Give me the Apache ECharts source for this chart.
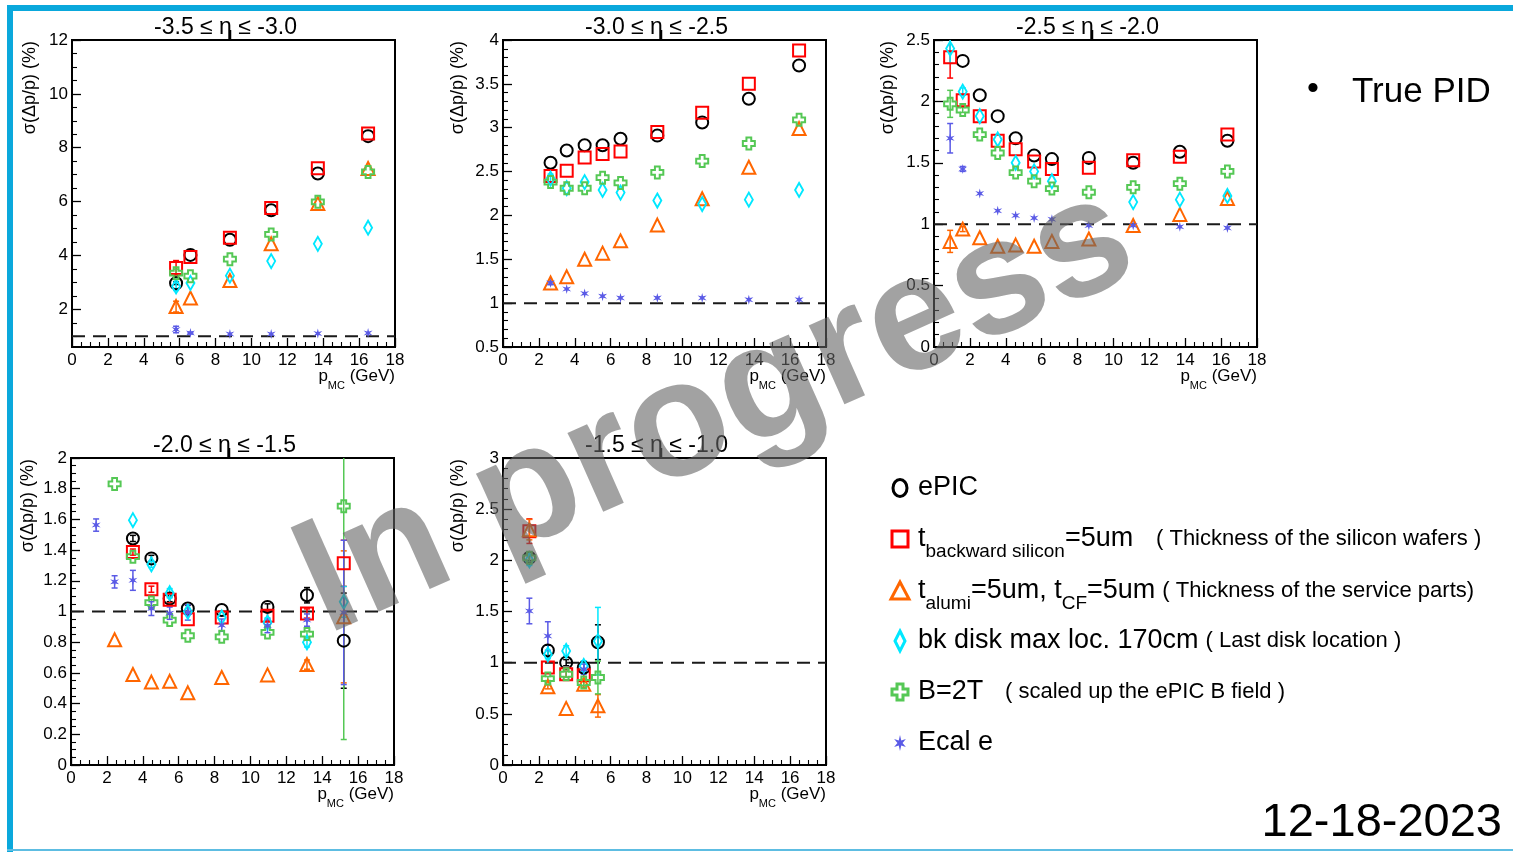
<!DOCTYPE html>
<html><head><meta charset="utf-8">
<script src="https://cdn.jsdelivr.net/npm/echarts@6/dist/echarts.min.js"></script>
<style>html,body{margin:0;padding:0;background:#fff;}#c{width:1513px;height:852px;}</style>
</head><body><div id="c"></div>
<script>
// ---------------- DATA ----------------
const X_TICKS = [0, 2, 4, 6, 8, 10, 12, 14, 16, 18];
const TITLES = ['-3.5 ≤ η ≤ -3.0', '-3.0 ≤ η ≤ -2.5', '-2.5 ≤ η ≤ -2.0', '-2.0 ≤ η ≤ -1.5', '-1.5 ≤ η ≤ -1.0'];
const Y_TITLE = 'σ(Δp/p) (%)';

// Panel 1: -3.5 <= eta <= -3.0
const P1_YTICKS = [2, 4, 6, 8, 10, 12];
const P1_X    = [5.8, 6.6, 8.8, 11.1, 13.7, 16.5];
const P1_EPIC = [2.97, 4.02, 4.58, 5.68, 7.04, 8.43];
const P1_TBS  = [3.53, 3.94, 4.66, 5.76, 7.24, 8.53];
const P1_TAL  = [2.10, 2.42, 3.07, 4.43, 5.93, 7.23];
const P1_BK   = [2.85, 2.98, 3.25, 3.79, 4.43, 5.03];
const P1_B2T  = [3.34, 3.23, 3.86, 4.78, 5.99, 7.10];
const P1_ECAL = [1.25, 1.12, 1.08, 1.08, 1.10, 1.12];
const P1_ERR_EPIC = [0.05, 0, 0, 0, 0, 0];
const P1_ERR_TBS  = [0.28, 0, 0, 0, 0, 0];
const P1_ERR_TAL  = [0.20, 0, 0, 0, 0, 0];
const P1_ERR_BK   = [0.15, 0, 0, 0, 0, 0];
const P1_ERR_B2T  = [0.15, 0, 0, 0, 0, 0];
const P1_ERR_ECAL = [0.12, 0.03, 0, 0, 0, 0];

// Panel 2: -3.0 <= eta <= -2.5
const P2_YTICKS = [0.5, 1, 1.5, 2, 2.5, 3, 3.5, 4];
const P2_X    = [2.65, 3.55, 4.55, 5.55, 6.55, 8.6, 11.1, 13.7, 16.5];
const P2_EPIC = [2.60, 2.74, 2.80, 2.80, 2.875, 2.91, 3.06, 3.33, 3.71];
const P2_TBS  = [2.45, 2.51, 2.66, 2.70, 2.73, 2.95, 3.17, 3.50, 3.88];
const P2_TAL  = [1.23, 1.30, 1.50, 1.57, 1.71, 1.89, 2.19, 2.55, 2.99];
const P2_BK   = [2.42, 2.31, 2.38, 2.29, 2.26, 2.17, 2.13, 2.18, 2.29];
const P2_B2T  = [2.38, 2.31, 2.31, 2.43, 2.37, 2.49, 2.62, 2.82, 3.09];
const P2_ECAL = [1.23, 1.16, 1.11, 1.08, 1.06, 1.06, 1.06, 1.04, 1.04];
const P2_ERR_EPIC = [0, 0, 0, 0, 0, 0, 0, 0, 0];
const P2_ERR_TBS  = [0, 0, 0, 0, 0, 0, 0, 0, 0];
const P2_ERR_TAL  = [0, 0, 0, 0, 0, 0, 0, 0, 0];
const P2_ERR_BK   = [0.05, 0, 0, 0, 0, 0, 0, 0, 0];
const P2_ERR_B2T  = [0, 0, 0, 0, 0, 0, 0, 0, 0];
const P2_ERR_ECAL = [0.02, 0, 0, 0, 0, 0, 0, 0, 0];

// Panel 3: -2.5 <= eta <= -2.0
const P3_YTICKS = [0, 0.5, 1, 1.5, 2, 2.5];
const P3_X    = [0.9, 1.6, 2.55, 3.55, 4.55, 5.58, 6.57, 8.63, 11.1, 13.7, 16.35];
const P3_EPIC = [null, 2.33, 2.05, 1.88, 1.70, 1.56, 1.53, 1.54, 1.50, 1.59, 1.68];
const P3_TBS  = [2.36, 2.01, 1.88, 1.68, 1.61, 1.51, 1.45, 1.46, 1.52, 1.55, 1.73];
const P3_TAL  = [0.86, 0.96, 0.89, 0.82, 0.83, 0.82, 0.86, 0.88, 0.99, 1.08, 1.21];
const P3_BK   = [2.43, 2.08, 1.88, 1.69, 1.50, 1.43, 1.35, null, 1.18, 1.20, 1.23];
const P3_B2T  = [1.98, 1.93, 1.73, 1.58, 1.42, 1.35, 1.29, 1.26, 1.30, 1.33, 1.43];
const P3_ECAL = [1.70, 1.45, 1.25, 1.11, 1.07, 1.05, 1.04, 0.99, 0.99, 0.98, 0.97];
const P3_ERR_EPIC = [0, 0, 0, 0, 0, 0, 0, 0, 0, 0, 0];
const P3_ERR_TBS  = [0.17, 0, 0, 0, 0, 0, 0, 0, 0, 0, 0];
const P3_ERR_TAL  = [0.09, 0.02, 0, 0, 0, 0, 0, 0, 0, 0, 0];
const P3_ERR_BK   = [0.12, 0.03, 0, 0, 0, 0, 0, 0, 0, 0, 0];
const P3_ERR_B2T  = [0.11, 0.02, 0, 0, 0, 0, 0, 0, 0, 0, 0];
const P3_ERR_ECAL = [0.12, 0.02, 0, 0, 0, 0, 0, 0, 0, 0, 0];

// Panel 4: -2.0 <= eta <= -1.5
const P4_YTICKS = [0, 0.2, 0.4, 0.6, 0.8, 1, 1.2, 1.4, 1.6, 1.8, 2];
const P4_X    = [1.4, 2.43, 3.45, 4.48, 5.5, 6.51, 8.4, 10.95, 13.15, 15.2];
const P4_EPIC = [null, null, 1.476, 1.346, 1.084, 1.02, 1.01, 1.03, 1.106, 0.81];
const P4_TBS  = [null, null, 1.387, 1.145, 1.076, 0.95, 0.961, 0.972, 0.987, 1.314];
const P4_TAL  = [null, 0.816, 0.59, 0.54, 0.545, 0.47, 0.57, 0.587, 0.654, 0.965];
const P4_BK   = [null, null, 1.595, 1.307, 1.119, 0.998, 0.961, 0.929, 0.799, 1.063];
const P4_B2T  = [null, 1.831, 1.357, 1.058, 0.944, 0.842, 0.835, 0.864, 0.853, 1.686];
const P4_ECAL = [1.563, 1.193, 1.203, 1.019, 0.989, 0.994, 0.911, 0.907, 0.944, 0.994];
const P4_ERR_EPIC = [0, 0, 0.02, 0.02, 0.02, 0.02, 0, 0.02, 0.05, 0.31];
const P4_ERR_TBS  = [0, 0, 0.02, 0.02, 0.02, 0, 0, 0.03, 0.03, 0.15];
const P4_ERR_TAL  = [0, 0, 0, 0, 0, 0, 0, 0, 0.03, 0.43];
const P4_ERR_BK   = [0, 0, 0, 0.02, 0.03, 0.02, 0, 0.03, 0.03, 0.10];
const P4_ERR_B2T  = [0, 0, 0, 0.02, 0, 0, 0, 0, 0.02, 1.52];
const P4_ERR_ECAL = [0.04, 0.04, 0.065, 0.045, 0.04, 0.05, 0.04, 0.045, 0.04, 0.47];

// Panel 5: -1.5 <= eta <= -1.0
const P5_YTICKS = [0, 0.5, 1, 1.5, 2, 2.5, 3];
const P5_X    = [1.47, 2.5, 3.52, 4.5, 5.29];
const P5_EPIC = [2.025, 1.12, 1.0, 0.952, 1.20];
const P5_TBS  = [2.285, 0.952, 0.887, 0.877, null];
const P5_TAL  = [2.30, 0.764, 0.553, 0.79, 0.578];
const P5_BK   = [2.0, 1.08, 1.115, 0.968, 1.21];
const P5_B2T  = [2.025, 0.845, 0.887, 0.806, 0.855];
const P5_ECAL = [1.505, 1.26, null, 0.936, null];
const P5_ERR_EPIC = [0.03, 0.05, 0.03, 0.05, 0.17];
const P5_ERR_TBS  = [0.12, 0, 0.03, 0.05, 0];
const P5_ERR_TAL  = [0.10, 0.02, 0, 0.03, 0.11];
const P5_ERR_BK   = [0.05, 0.04, 0.05, 0.05, 0.33];
const P5_ERR_B2T  = [0.05, 0.02, 0.03, 0.03, 0.16];
const P5_ERR_ECAL = [0.125, 0.14, 0, 0.05, 0];

const REF_LINE = 1;

// Legend text
const LEGEND_ROWS = [
  { runs: [['ePIC', 'm']] },
  { runs: [['t', 'm'], ['backward silicon', 's'], ['=5um', 'm']], note: '( Thickness of the silicon wafers )', noteX: 1156 },
  { runs: [['t', 'm'], ['alumi', 's'], ['=5um, t', 'm'], ['CF', 's'], ['=5um', 'm']], note: '( Thickness of the service parts)', noteGap: 7 },
  { runs: [['bk disk max loc. 170cm', 'm']], note: '( Last disk location )', noteGap: 7 },
  { runs: [['B=2T', 'm']], note: '( scaled up the ePIC B field )', noteX: 1005 },
  { runs: [['Ecal e', 'm']] }
];
const SIDE_NOTE = 'True PID';
const DATE_TEXT = '12-18-2023';
const WATERMARK = 'In progress';

// ---------------- LAYOUT / STYLE ----------------
const FONT = "'Liberation Sans', Arial, Helvetica, sans-serif";
const W = 323, H = 307;
const LAYOUT = [
  { left: 72,  top: 40,  ymin: 0.6, ymax: 12,  minor: 0.5,  ytx: 30 },
  { left: 503, top: 40,  ymin: 0.5, ymax: 4,   minor: 0.1,  ytx: 458 },
  { left: 934, top: 40,  ymin: 0,   ymax: 2.5, minor: 0.1,  ytx: 888 },
  { left: 71,  top: 458, ymin: 0,   ymax: 2,   minor: 0.05, ytx: 28 },
  { left: 503, top: 458, ymin: 0,   ymax: 3,   minor: 0.1,  ytx: 458 }
];
const PANELS = [
  { x: P1_X, yt: P1_YTICKS, ys: [P1_EPIC, P1_TBS, P1_TAL, P1_BK, P1_B2T, P1_ECAL], es: [P1_ERR_EPIC, P1_ERR_TBS, P1_ERR_TAL, P1_ERR_BK, P1_ERR_B2T, P1_ERR_ECAL] },
  { x: P2_X, yt: P2_YTICKS, ys: [P2_EPIC, P2_TBS, P2_TAL, P2_BK, P2_B2T, P2_ECAL], es: [P2_ERR_EPIC, P2_ERR_TBS, P2_ERR_TAL, P2_ERR_BK, P2_ERR_B2T, P2_ERR_ECAL] },
  { x: P3_X, yt: P3_YTICKS, ys: [P3_EPIC, P3_TBS, P3_TAL, P3_BK, P3_B2T, P3_ECAL], es: [P3_ERR_EPIC, P3_ERR_TBS, P3_ERR_TAL, P3_ERR_BK, P3_ERR_B2T, P3_ERR_ECAL] },
  { x: P4_X, yt: P4_YTICKS, ys: [P4_EPIC, P4_TBS, P4_TAL, P4_BK, P4_B2T, P4_ECAL], es: [P4_ERR_EPIC, P4_ERR_TBS, P4_ERR_TAL, P4_ERR_BK, P4_ERR_B2T, P4_ERR_ECAL] },
  { x: P5_X, yt: P5_YTICKS, ys: [P5_EPIC, P5_TBS, P5_TAL, P5_BK, P5_B2T, P5_ECAL], es: [P5_ERR_EPIC, P5_ERR_TBS, P5_ERR_TAL, P5_ERR_BK, P5_ERR_B2T, P5_ERR_ECAL] }
];
const PLUS_PATH = 'path://M3,0H7V3H10V7H7V10H3V7H0V3H3Z';
const STAR_PATH = 'path://M10,0L11.75,6.97L18.66,5L13.5,10L18.66,15L11.75,13.03L10,20L8.25,13.03L1.34,15L6.5,10L1.34,5L8.25,6.97Z';
const STYLES = [
  { symbol: 'circle',   size: 12,      color: '#000000' },
  { symbol: 'rect',     size: 12,      color: '#ff0000' },
  { symbol: 'triangle', size: 13,      color: '#ff6600' },
  { symbol: 'diamond',  size: [8, 14], color: '#00e8ff' },
  { symbol: PLUS_PATH,  size: 12,      color: '#55c855' },
  { symbol: STAR_PATH,  size: [9, 10], color: '#5a5ae6', filled: true }
];

const mctx = document.createElement('canvas').getContext('2d');
function tw(text, size, bold) { mctx.font = (bold ? 'bold ' : '') + size + 'px ' + FONT; return mctx.measureText(text).width; }
function r3(v) { return Math.round(v * 1000) / 1000; }

// ---------------- BUILD ----------------
const grids = [], xAxes = [], yAxes = [], yMinor = [], series = [], gfx = [];

LAYOUT.forEach((L, i) => {
  const P = PANELS[i];
  grids.push({ left: L.left, top: L.top, width: W, height: H, show: true, borderColor: '#000', borderWidth: 2, backgroundColor: 'transparent' });
  xAxes.push({
    type: 'value', gridIndex: i, min: X_TICKS[0], max: X_TICKS[X_TICKS.length - 1], interval: X_TICKS[1] - X_TICKS[0],
    axisLine: { show: false }, splitLine: { show: false },
    axisTick: { show: true, inside: true, length: 9, lineStyle: { color: '#000', width: 1.3 } },
    minorTick: { show: true, splitNumber: 4, length: 5, lineStyle: { color: '#000', width: 1.1 } },
    axisLabel: { show: true, color: '#000', fontSize: 17, fontFamily: FONT, margin: 5 }
  });
  const minorVals = [];
  for (let v = L.ymin; v <= L.ymax + 1e-9; v += L.minor) {
    const rv = r3(Math.round(v / L.minor) * L.minor);
    if (rv >= L.ymin - 1e-9 && rv <= L.ymax + 1e-9 && P.yt.indexOf(rv) < 0) minorVals.push(rv);
  }
  yAxes.push({
    type: 'value', gridIndex: i, min: L.ymin, max: L.ymax, position: 'left',
    axisLine: { show: false }, splitLine: { show: false },
    axisTick: { show: true, inside: true, length: 9, customValues: P.yt, lineStyle: { color: '#000', width: 1.3 } },
    axisLabel: { show: true, customValues: P.yt, color: '#000', fontSize: 17, fontFamily: FONT, margin: 4 }
  });
  yMinor.push({
    type: 'value', gridIndex: i, min: L.ymin, max: L.ymax, position: 'left',
    axisLine: { show: false }, splitLine: { show: false }, axisLabel: { show: false },
    axisTick: { show: true, inside: true, length: 5, customValues: minorVals, lineStyle: { color: '#000', width: 1.1 } }
  });

  // reference dashed line
  series.push({
    type: 'line', xAxisIndex: i, yAxisIndex: i, data: [[X_TICKS[0], REF_LINE], [X_TICKS[X_TICKS.length - 1], REF_LINE]],
    symbol: 'none', silent: true, z: 1, lineStyle: { color: '#1a1a1a', width: 2, type: [13, 8] }
  });

  STYLES.forEach((S, k) => {
    const ys = P.ys[k], es = P.es[k];
    const errData = [], ptData = [];
    P.x.forEach((x, j) => {
      if (ys[j] == null) return;
      ptData.push([x, ys[j]]);
      if (es[j] > 0) errData.push([x, ys[j], es[j]]);
    });
    const ymin = L.ymin, ymax = L.ymax, col = S.color;
    series.push({
      type: 'custom', xAxisIndex: i, yAxisIndex: i, data: errData, silent: true, z: 2,
      encode: { x: 0, y: 1 },
      renderItem: function (params, api) {
        const x = api.value(0), y = api.value(1), e = api.value(2);
        const lo = Math.max(y - e, ymin), hi = Math.min(y + e, ymax);
        const a = api.coord([x, lo]), b = api.coord([x, hi]);
        const st = { stroke: col, lineWidth: 1.5 };
        const ch = [{ type: 'line', shape: { x1: a[0], y1: a[1], x2: b[0], y2: b[1] }, style: st }];
        if (y - e >= ymin) ch.push({ type: 'line', shape: { x1: a[0] - 3, y1: a[1], x2: a[0] + 3, y2: a[1] }, style: st });
        if (y + e <= ymax) ch.push({ type: 'line', shape: { x1: b[0] - 3, y1: b[1], x2: b[0] + 3, y2: b[1] }, style: st });
        return { type: 'group', children: ch };
      }
    });
    series.push({
      type: 'scatter', xAxisIndex: i, yAxisIndex: i, data: ptData, symbol: S.symbol, symbolSize: S.size, z: 3, silent: true,
      itemStyle: S.filled ? { color: col, borderWidth: 0, opacity: 1 } : { color: 'rgba(0,0,0,0)', borderColor: col, borderWidth: 2, opacity: 1 }
    });
  });

  // panel title + small tick
  const cx = L.left + W / 2;
  gfx.push({ type: 'text', x: cx - 8, y: L.top - 12, z: 50, style: { text: TITLES[i], font: '23px ' + FONT, fill: '#000', align: 'center', verticalAlign: 'middle' } });
  gfx.push({ type: 'line', z: 50, shape: { x1: cx - 3, y1: L.top - 10, x2: cx - 3, y2: L.top }, style: { stroke: '#000', lineWidth: 1.5 } });
  // y title (rotated)
  gfx.push({ type: 'text', x: L.ytx, y: L.top + 1, rotation: Math.PI / 2, z: 50, style: { text: Y_TITLE, font: '18px ' + FONT, fill: '#000', align: 'right', verticalAlign: 'middle' } });
  // x title p_MC (GeV)
  const xe = L.left + W, yb = L.top + H + 29;
  const wG = tw(' (GeV)', 17), wMC = tw('MC', 11), wp = tw('p', 17);
  gfx.push({ type: 'text', x: xe - wG, y: yb, z: 50, style: { text: ' (GeV)', font: '17px ' + FONT, fill: '#000', align: 'left', verticalAlign: 'middle' } });
  gfx.push({ type: 'text', x: xe - wG - wMC, y: yb + 10, z: 50, style: { text: 'MC', font: '11px ' + FONT, fill: '#000', align: 'left', verticalAlign: 'middle' } });
  gfx.push({ type: 'text', x: xe - wG - wMC - wp, y: yb, z: 50, style: { text: 'p', font: '17px ' + FONT, fill: '#000', align: 'left', verticalAlign: 'middle' } });
});

// legend
const LEG_Y = [488, 539, 591, 641, 692, 743];
const LX = 900, TX = 918, MS = 27, SS = 19, NS = 22;
function starPts(cx, cy, R, r) {
  const pts = [];
  for (let k = 0; k < 12; k++) { const ang = -Math.PI / 2 + k * Math.PI / 6; const rr = k % 2 ? r : R; pts.push([cx + rr * Math.cos(ang) * 0.85, cy + rr * Math.sin(ang)]); }
  return pts;
}
const legMarks = [
  (y) => ({ type: 'ellipse', shape: { cx: LX, cy: y, rx: 7, ry: 8.5 }, style: { fill: 'none', stroke: STYLES[0].color, lineWidth: 3 } }),
  (y) => ({ type: 'rect', shape: { x: LX - 8, y: y - 8, width: 16, height: 16 }, style: { fill: 'none', stroke: STYLES[1].color, lineWidth: 3 } }),
  (y) => ({ type: 'polygon', shape: { points: [[LX, y - 9], [LX + 9, y + 8], [LX - 9, y + 8]] }, style: { fill: 'none', stroke: STYLES[2].color, lineWidth: 3 } }),
  (y) => ({ type: 'polygon', shape: { points: [[LX, y - 10], [LX + 5, y], [LX, y + 10], [LX - 5, y]] }, style: { fill: 'none', stroke: STYLES[3].color, lineWidth: 3 } }),
  (y) => ({ type: 'polygon', shape: { points: [[LX - 3, y - 8], [LX + 3, y - 8], [LX + 3, y - 3], [LX + 8, y - 3], [LX + 8, y + 3], [LX + 3, y + 3], [LX + 3, y + 8], [LX - 3, y + 8], [LX - 3, y + 3], [LX - 8, y + 3], [LX - 8, y - 3], [LX - 3, y - 3]] }, style: { fill: 'none', stroke: STYLES[4].color, lineWidth: 3 } }),
  (y) => ({ type: 'polygon', shape: { points: starPts(LX, y, 8, 3) }, style: { fill: STYLES[5].color } })
];
LEGEND_ROWS.forEach((row, k) => {
  const y = LEG_Y[k];
  const m = legMarks[k](y); m.z = 60; gfx.push(m);
  let x = TX;
  row.runs.forEach(([t, kind]) => {
    const sz = kind === 'm' ? MS : SS;
    const yy = kind === 'm' ? y : y + 13;
    gfx.push({ type: 'text', x: x, y: yy, z: 60, style: { text: t, font: sz + 'px ' + FONT, fill: '#000', align: 'left', verticalAlign: 'middle' } });
    x += tw(t, sz);
  });
  if (row.note) {
    const nx = row.noteX != null ? row.noteX : x + row.noteGap;
    gfx.push({ type: 'text', x: nx, y: y, z: 60, style: { text: row.note, font: NS + 'px ' + FONT, fill: '#000', align: 'left', verticalAlign: 'middle' } });
  }
});

// side note, date
gfx.push({ type: 'text', x: 1313, y: 90, z: 60, style: { text: '•', font: '34px ' + FONT, fill: '#000', align: 'center', verticalAlign: 'middle' } });
gfx.push({ type: 'text', x: 1352, y: 92, z: 60, style: { text: SIDE_NOTE, font: '35px ' + FONT, fill: '#000', align: 'left', verticalAlign: 'middle' } });
gfx.push({ type: 'text', x: 1502, y: 823, z: 60, style: { text: DATE_TEXT, font: '47px ' + FONT, fill: '#000', align: 'right', verticalAlign: 'middle' } });

// frame
gfx.push({ type: 'rect', z: 70, shape: { x: 7, y: 5, width: 1506, height: 6 }, style: { fill: '#0aa8dc' } });
gfx.push({ type: 'rect', z: 70, shape: { x: 7, y: 5, width: 6, height: 847 }, style: { fill: '#0aa8dc' } });
gfx.push({ type: 'rect', z: 70, shape: { x: 7, y: 849, width: 1506, height: 2 }, style: { fill: '#5dbde2' } });

// watermark
gfx.push({ type: 'text', x: 716, y: 412, rotation: 24 * Math.PI / 180, z: 90, silent: true,
  style: { text: WATERMARK, font: 'bold 164px ' + FONT, fill: 'rgba(100,100,100,0.6)', align: 'center', verticalAlign: 'middle' } });

const option = {
  animation: false,
  backgroundColor: '#ffffff',
  textStyle: { fontFamily: FONT },
  grid: grids,
  xAxis: xAxes,
  yAxis: yAxes.concat(yMinor),
  series: series,
  graphic: { elements: gfx }
};
const chart = echarts.init(document.getElementById('c'), null, { renderer: 'canvas', width: 1513, height: 852 });
chart.setOption(option);
</script>
</body></html>
